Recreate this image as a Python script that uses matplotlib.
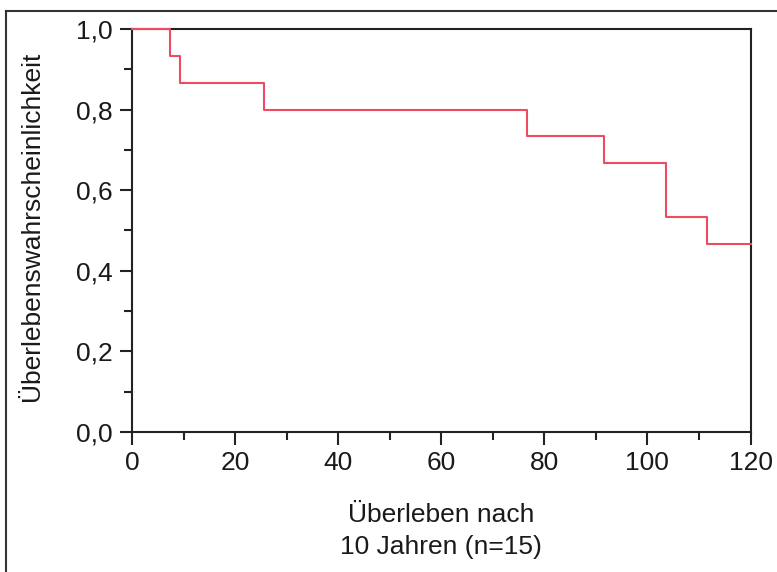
import matplotlib
matplotlib.use("Agg")
import matplotlib.pyplot as plt
from matplotlib.lines import Line2D
from matplotlib.ticker import MultipleLocator, FuncFormatter

# Kaplan-Meier estimate: event times (months) and survival after each step
event_times = [0, 7.4, 9.4, 25.6, 76.6, 91.6, 103.6, 111.5]
survival = [1.0, 14/15, 13/15, 12/15, 11/15, 10/15, 8/15, 7/15]
follow_up_end = 120

x_ticks = [0, 20, 40, 60, 80, 100, 120]
y_ticks = [0.0, 0.2, 0.4, 0.6, 0.8, 1.0]
x_label = "Überleben nach\n10 Jahren (n=15)"
y_label = "Überlebenswahrscheinlichkeit"

plt.rcParams["font.family"] = ["Liberation Sans", "DejaVu Sans"]

fig = plt.figure(figsize=(7.77, 5.72), dpi=100)
ax = fig.add_axes([0.1699, 0.2448, 0.9659 - 0.1699, 0.9493 - 0.2448])

xs = event_times + [follow_up_end]
ys = survival + [survival[-1]]
ax.step(xs, ys, where="post", color="#ef4a62", lw=1.5, clip_on=False, zorder=3)

ax.set_xlim(0, 120)
ax.set_ylim(0, 1.0)
ax.set_xticks(x_ticks)
ax.set_yticks(y_ticks)
ax.xaxis.set_minor_locator(MultipleLocator(10))
ax.yaxis.set_minor_locator(MultipleLocator(0.1))
ax.yaxis.set_major_formatter(FuncFormatter(lambda v, p: f"{v:.1f}".replace(".", ",")))

for sp in ax.spines.values():
    sp.set_linewidth(1.5)
    sp.set_color("#222222")

ax.tick_params(which="major", direction="out", length=9, width=1.5,
               color="#222222", labelsize=19, labelcolor="#1a1a1a", pad=5)
ax.tick_params(which="minor", direction="out", length=5.5, width=1.5,
               color="#222222")

ax.set_xlabel(x_label, fontsize=19, color="#1a1a1a", labelpad=20, linespacing=1.4)
ax.set_ylabel(y_label, fontsize=19, color="#1a1a1a")
ax.yaxis.set_label_coords(-0.142, 0.51)

# outer frame (top and left edges)
frame_kw = dict(color="#333333", lw=1.5, transform=fig.transFigure)
fig.add_artist(Line2D([6/777, 1.0], [1 - 10.5/572, 1 - 10.5/572], **frame_kw))
fig.add_artist(Line2D([6/777, 6/777], [0, 1 - 10.5/572], **frame_kw))

fig.savefig("out.png", dpi=100, facecolor="white")
